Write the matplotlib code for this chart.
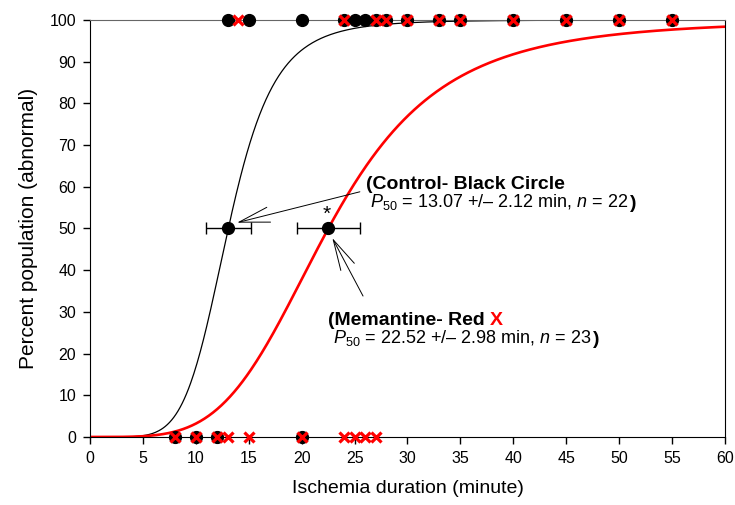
import numpy as np
import matplotlib
matplotlib.use("Agg")
import matplotlib.pyplot as plt

plt.rcParams['font.family'] = ['Liberation Sans', 'DejaVu Sans']
plt.rcParams['mathtext.fontset'] = 'custom'
plt.rcParams['mathtext.rm'] = 'Liberation Sans'
plt.rcParams['mathtext.it'] = 'Liberation Sans:italic'

# individual animals: ischemia duration (min) scored normal (0) or abnormal (100)
ctrl_x_0 = [8, 10, 12, 20]
ctrl_x_100 = [13, 15, 20, 24, 25, 26, 27, 28, 30, 33, 35, 40, 45, 50, 55]
mem_x_0 = [8, 10, 12, 13, 15, 20, 24, 25, 26, 27]
mem_x_100 = [14, 24, 27, 28, 30, 33, 35, 40, 45, 50, 55]

# fitted P50 (+/- error) and Hill slope of each fit
ctrl_p50, ctrl_err, ctrl_slope, ctrl_n = 13.07, 2.12, 6.0, 22
mem_p50, mem_err, mem_slope, mem_n = 22.52, 2.98, 4.2, 23

def hill(x, p50, h):
    return 100.0 * x**h / (x**h + p50**h)

fig = plt.figure(figsize=(7.35, 5.05), dpi=100)
ax = fig.add_axes([0.1224, 0.1347, 0.864, 0.8257])

xs = np.linspace(0, 60, 600)
ax.plot(xs, hill(xs, ctrl_p50, ctrl_slope), color='black', lw=0.9, zorder=2)
ax.plot(xs, hill(xs, mem_p50, mem_slope), color='red', lw=1.9, zorder=2)

ax.plot(ctrl_x_0, [0]*len(ctrl_x_0), 'o', color='black', ms=8.5, clip_on=False, zorder=5)
ax.plot(ctrl_x_100, [100]*len(ctrl_x_100), 'o', color='black', ms=8.5, clip_on=False, zorder=5)
ax.plot(mem_x_0, [0]*len(mem_x_0), 'x', color='red', ms=6.5, mew=2.3, clip_on=False, zorder=6)
ax.plot(mem_x_100, [100]*len(mem_x_100), 'x', color='red', ms=6.5, mew=2.3, clip_on=False, zorder=6)

ax.errorbar([ctrl_p50, mem_p50], [50, 50], xerr=[ctrl_err, mem_err], fmt='o',
            color='black', ms=8.5, capsize=4.3, elinewidth=1, capthick=1, zorder=7)
ax.text(mem_p50 - 0.2, 53.5, '*', fontsize=15, ha='center', va='center')

arrow = dict(arrowstyle='->,head_length=2.2,head_width=0.55', color='black',
             lw=0.7, shrinkA=0, shrinkB=0, mutation_scale=10)
ax.annotate('', xy=(13.9, 51.4), xytext=(25.5, 58.8), arrowprops=arrow)
ax.annotate('', xy=(22.9, 47.7), xytext=(25.8, 33.8), arrowprops=arrow)

ax.text(26.1, 60.5, '(Control- Black Circle', fontsize=14, fontweight='bold', va='center')
t1 = ax.text(26.5, 55.1, r'$P_{50}$ = %.2f +/– %.2f min, $n$ = %d' % (ctrl_p50, ctrl_err, ctrl_n),
             fontsize=13, va='baseline')
ax.annotate(')', xy=(1, 0), xycoords=t1, xytext=(1, 0), textcoords='offset points',
            fontsize=14, fontweight='bold', va='bottom')

t2 = ax.text(22.5, 28.0, '(Memantine- Red ', fontsize=14, fontweight='bold', va='center')
ax.annotate('X', xy=(1, 0.5), xycoords=t2, fontsize=14, fontweight='bold',
            va='center', color='red')
t3 = ax.text(23.0, 22.6, r'$P_{50}$ = %.2f +/– %.2f min, $n$ = %d' % (mem_p50, mem_err, mem_n),
             fontsize=13, va='baseline')
ax.annotate(')', xy=(1, 0), xycoords=t3, xytext=(1, 0), textcoords='offset points',
            fontsize=14, fontweight='bold', va='bottom')

ax.set_xlim(0, 60)
ax.set_ylim(0, 100)
ax.set_xticks(np.arange(0, 61, 5))
ax.set_yticks(np.arange(0, 101, 10))
ax.tick_params(direction='out', length=5, width=1, labelsize=11.5, pad=5)
ax.spines['top'].set_color('#666666')
for s in ['left', 'bottom', 'right']:
    ax.spines[s].set_color('black')
ax.set_xlabel('Ischemia duration (minute)', fontsize=14, labelpad=10)
ax.set_ylabel('Percent population (abnormal)', fontsize=15, labelpad=8)

fig.savefig('out.png', dpi=100)
